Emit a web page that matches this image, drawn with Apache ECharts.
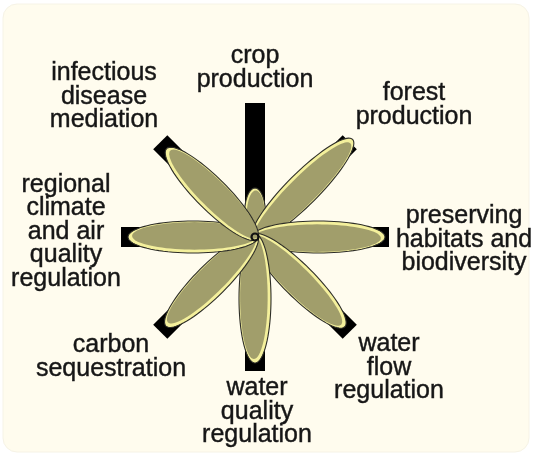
<!DOCTYPE html>
<html><head><meta charset="utf-8">
<script src="https://cdn.jsdelivr.net/npm/echarts@6/dist/echarts.min.js"></script>
<style>html,body{margin:0;padding:0;background:#fff}#c{width:533px;height:454px}</style>
</head><body><div id="c"></div><script>
// ---- data ----
const categories = [
  'crop\nproduction',
  'forest\nproduction',
  'preserving\nhabitats and\nbiodiversity',
  'water\nflow\nregulation',
  'water\nquality\nregulation',
  'carbon\nsequestration',
  'regional\nclimate\nand air\nquality\nregulation',
  'infectious\ndisease\nmediation'
];
const axisMax = [134, 134, 134, 134, 134, 134, 134, 134];
const petalValues = [49, 138, 130, 127, 126, 126, 127, 125];

// ---- layout / style (not data) ----
const labelPos = [[255, 68], [414, 105], [464, 240], [389, 368], [257, 412], [111, 357], [66, 232], [104, 97]];
const OLIVE = '#a19e6b', YELLOW = '#f4f09c', OUTLINE = '#2e2e28';

function geom(api, idx, len) {
  const p0 = api.coord([0, idx]);
  const p1 = api.coord([len, idx]);
  const dx = p1[0] - p0[0], dy = p1[1] - p0[1];
  const L = Math.hypot(dx, dy);
  const ux = dx / L, uy = dy / L;
  return { p0, L, ux, uy, nx: -uy, ny: ux };
}
function ellipsePts(cx, cy, ux, uy, nx, ny, a, b) {
  const pts = [];
  for (let k = 0; k < 80; k++) {
    const t = k / 80 * Math.PI * 2;
    const ca = a * Math.cos(t), sb = b * Math.sin(t);
    pts.push([cx + ux * ca + nx * sb, cy + uy * ca + ny * sb]);
  }
  return pts;
}

const chart = echarts.init(document.getElementById('c'), null, { renderer: 'canvas' });
chart.setOption({
  animation: false,
  backgroundColor: '#ffffff',
  polar: { center: [255, 237], radius: 140 },
  angleAxis: {
    type: 'category', data: categories, startAngle: 112.5, clockwise: true,
    axisLine: { show: false }, axisTick: { show: false }, axisLabel: { show: false },
    splitLine: { show: false }, splitArea: { show: false }
  },
  radiusAxis: {
    type: 'value', min: 0, max: 140,
    axisLine: { show: false }, axisTick: { show: false }, axisLabel: { show: false },
    splitLine: { show: false }
  },
  graphic: [
    { type: 'rect', z: -10, shape: { x: 3, y: 4, width: 526, height: 448, r: 14 },
      style: { fill: '#fffcee', stroke: '#f6f3e6', lineWidth: 1 } }
  ].concat(categories.map((c, i) => ({
    type: 'text', x: labelPos[i][0], y: labelPos[i][1],
    style: { text: c, fill: '#161616', font: '25px "Liberation Sans", Arial, sans-serif',
      lineHeight: 23.5, align: 'center', verticalAlign: 'middle',
      stroke: '#2a2a2a', lineWidth: 0.45 }
  }))),
  series: [
    {
      type: 'custom', coordinateSystem: 'polar', z: 2,
      data: axisMax.map((v, i) => [v, i]),
      encode: { radius: 0, angle: 1 },
      renderItem: function (params, api) {
        const g = geom(api, api.value(1), api.value(0));
        const w = 20, h = w / 2;
        const ex = g.p0[0] + g.ux * g.L, ey = g.p0[1] + g.uy * g.L;
        return {
          type: 'polygon',
          shape: { points: [
            [g.p0[0] + g.nx * h, g.p0[1] + g.ny * h],
            [ex + g.nx * h, ey + g.ny * h],
            [ex - g.nx * h, ey - g.ny * h],
            [g.p0[0] - g.nx * h, g.p0[1] - g.ny * h]
          ] },
          style: { fill: '#000000' }
        };
      }
    },
    {
      type: 'custom', coordinateSystem: 'polar', z: 3,
      data: petalValues.map((v, i) => [v, i]),
      encode: { radius: 0, angle: 1 },
      renderItem: function (params, api) {
        const g = geom(api, api.value(1), api.value(0));
        const s = 3;
        const a = (g.L + s) / 2;
        const b = Math.min(32, g.L * 0.43) / 2;
        const cx = g.p0[0] + g.ux * (g.L - s) / 2, cy = g.p0[1] + g.uy * (g.L - s) / 2;
        const shift = b * 0.07;
        const outer = ellipsePts(cx, cy, g.ux, g.uy, g.nx, g.ny, a, b);
        const inner = ellipsePts(cx + g.nx * shift - g.ux * 1.5, cy + g.ny * shift - g.uy * 1.5,
          g.ux, g.uy, g.nx, g.ny, a * 0.96, b * 0.86);
        return {
          type: 'group',
          children: [
            { type: 'polygon', shape: { points: outer }, style: { fill: YELLOW } },
            { type: 'polygon', shape: { points: inner }, style: { fill: OLIVE } },
            { type: 'polygon', shape: { points: outer }, style: { fill: null, stroke: OUTLINE, lineWidth: 1.1 } }
          ]
        };
      }
    },
    {
      type: 'custom', coordinateSystem: 'polar', z: 4,
      data: [[0, 0]],
      encode: { radius: 0, angle: 1 },
      renderItem: function (params, api) {
        const p = api.coord([0, 0]);
        return { type: 'circle', shape: { cx: p[0], cy: p[1], r: 3.5 },
          style: { fill: null, stroke: '#111', lineWidth: 2.2 } };
      }
    }
  ]
});
</script></body></html>
